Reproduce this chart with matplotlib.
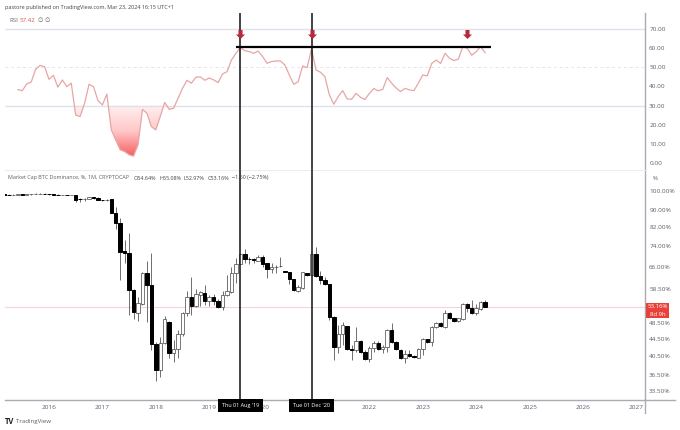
##BTC DOMINANCE MONTHLY CANDLES WITH RSI PANEL

import pandas as pd
import numpy as np
import matplotlib
matplotlib.use('Agg')
import matplotlib.pyplot as plt
from matplotlib.colors import LinearSegmentedColormap
from matplotlib.path import Path

plt.rcParams['font.family'] = ['Open Sans', 'DejaVu Sans']

##DATA

dates = pd.date_range('2015-03-01', periods=109, freq='MS')

opens = [98.2, 98.1, 98.0, 98.1, 98.2, 98.1, 98.3, 98.4, 98.5, 98.6,
         98.4, 98.3, 98.0, 97.9, 97.9, 97.8,
         97.8, 95.6, 95.5, 96.0, 96.6, 96.3,
         95.2, 95.0, 95.7, 88.7, 84.0, 72.0, 71.3, 58.2, 51.3, 53.9, 63.9, 59.8,
         43.3, 37.6, 43.6, 48.9, 41.3, 42.2, 45.8, 51.3, 56.0, 53.3, 56.6, 57.2,
         54.8, 56.0, 54.8, 53.0, 56.6, 57.6, 63.9, 67.1, 70.9, 69.0, 69.0, 68.4,
         69.7, 67.5, 65.3, 66.0, 66.2, 64.6, 64.2, 61.8, 57.9, 59.0, 63.9, 63.2,
         70.9, 62.8, 61.5, 60.1, 50.2, 42.6, 45.8, 47.8, 42.2, 41.9, 44.1, 41.5,
         39.9, 42.4, 43.6, 42.2, 42.6, 46.8, 43.8, 41.9, 40.2, 41.0, 40.5, 40.2,
         42.2, 44.5, 43.8, 47.6, 48.6, 47.6, 51.3, 49.9, 49.1, 49.7, 53.9, 52.7,
         51.3, 52.4, 54.64]
highs = [98.4, 98.3, 98.3, 98.4, 98.4, 98.5, 98.6, 98.7, 98.8, 98.8,
         98.6, 98.5, 98.2, 98.1, 98.1, 98.1,
         98.0, 96.2, 96.4, 96.8, 97.0, 96.6,
         95.4, 95.5, 96.0, 91.8, 86.3, 76.5, 79.5, 58.5, 56.0, 64.2, 68.2, 71.3,
         43.8, 45.0, 50.5, 49.1, 44.3, 46.8, 51.6, 57.9, 62.5, 58.5, 57.9, 59.8,
         56.6, 56.9, 55.4, 57.9, 63.2, 66.0, 69.3, 71.0, 72.8, 69.7, 69.2, 70.5,
         70.5, 67.5, 67.5, 66.7, 69.7, 64.7, 64.2, 61.8, 59.8, 64.4, 64.0, 71.0,
         73.6, 64.6, 62.5, 60.2, 50.4, 48.1, 48.9, 47.9, 43.1, 47.6, 44.4, 41.9,
         42.9, 44.0, 44.0, 43.1, 47.0, 48.6, 44.0, 42.2, 41.9, 41.9, 40.8, 42.4,
         44.8, 44.6, 47.8, 48.9, 48.8, 52.2, 51.5, 50.0, 50.0, 54.2, 54.2, 55.1,
         53.9, 54.8, 55.08]
lows = [97.9, 97.8, 97.8, 97.9, 97.9, 97.9, 98.1, 98.2, 98.3, 98.2,
        98.1, 97.8, 97.7, 97.7, 97.6, 97.6,
        94.2, 94.2, 94.7, 95.6, 96.0, 95.0,
        94.8, 94.8, 88.5, 81.3, 61.5, 67.5, 50.8, 49.7, 49.1, 53.6, 48.9, 41.9,
        35.4, 36.2, 43.3, 40.2, 39.3, 40.2, 45.3, 50.5, 50.8, 53.0, 53.3, 53.6,
        53.3, 53.6, 52.7, 52.2, 56.3, 57.2, 60.5, 67.0, 67.5, 67.1, 67.5, 68.2,
        66.0, 62.2, 63.9, 63.9, 66.0, 64.1, 60.1, 57.8, 57.6, 58.5, 63.0, 63.0,
        62.6, 60.0, 59.8, 49.4, 39.8, 41.3, 43.1, 42.0, 39.7, 41.5, 41.3, 39.7,
        39.3, 41.5, 42.0, 41.3, 41.5, 43.6, 42.0, 40.0, 39.1, 40.4, 40.2, 40.1,
        40.8, 43.6, 42.9, 47.3, 47.6, 47.3, 49.7, 49.0, 49.0, 49.5, 51.6, 51.0,
        50.8, 52.2, 52.97]
closes = [98.1, 98.0, 98.1, 98.2, 98.1, 98.3, 98.4, 98.5, 98.6, 98.4,
          98.3, 98.0, 97.9, 97.9, 97.8, 97.9,
          95.2, 95.5, 95.8, 96.6, 96.4, 95.2,
          95.0, 95.3, 88.7, 84.0, 71.6, 71.3, 58.2, 51.6, 54.2, 63.9, 59.8, 43.3,
          37.6, 43.6, 49.7, 41.3, 42.2, 45.8, 51.3, 56.0, 53.3, 56.9, 57.6, 54.8,
          56.0, 54.8, 53.0, 56.6, 57.9, 63.9, 67.1, 70.9, 69.0, 68.8, 68.6, 69.7,
          67.1, 65.3, 66.0, 66.1, 66.4, 64.2, 61.8, 58.2, 59.2, 64.2, 63.2, 70.9,
          62.8, 61.5, 60.1, 50.2, 42.6, 45.8, 48.1, 42.2, 41.9, 44.1, 41.5, 39.9,
          42.4, 43.6, 42.2, 42.6, 46.8, 43.8, 42.2, 40.2, 41.0, 40.6, 40.4, 42.2,
          44.5, 43.8, 47.6, 48.6, 47.8, 51.3, 49.9, 49.1, 49.9, 53.9, 52.7, 51.3,
          52.7, 54.5, 53.16]

rsi_dates = pd.date_range('2015-06-01', periods=106, freq='MS')
rsi_values = [38.3, 37.8, 41.3, 42.3, 49, 51, 50.3,
              43.7, 45.8, 39.6, 43.4, 39.9, 41.7, 25, 24.3, 31.2, 41.1, 39.9, 32.6,
              30.3, 36, 17.3, 12, 6.9, 6, 4.3, 3.6, 9.5, 28, 26, 19,
              17.3, 24.3, 31.6, 28, 28.6, 33.8, 39, 43.2, 41.7, 44.8, 45, 43.2,
              44.4, 43.4, 42, 46.5, 47.7, 53.8, 57.3, 60.3, 58.7, 58.2, 57.3, 58.5,
              55.6, 52.1, 53, 53.3, 53.3, 51.2, 46, 41.1, 42.5, 50.7, 49.8, 59.6,
              48.6, 47.4, 45.1, 35.6, 30.7, 34.7, 37.8, 33.5, 33.3, 36.4, 34.3, 33.1,
              36.4, 38.9, 37.7, 38.5, 44.6, 41.7, 39.2, 37.3, 39, 38.2, 37.8, 41.7,
              46, 45.5, 52, 53.8, 52, 57.3, 54.7, 53.5, 54.3, 60.8, 59.9, 56.3,
              58.2, 60.8, 57.6]

# 2021 sits fully behind the crosshair date label in the picture
year_ticks = [2016, 2017, 2018, 2019, 2020, 2022, 2023, 2024, 2025, 2026, 2027]
price_ticks = [100, 90, 82, 74, 66, 58.5, 48.5, 44.5, 40.5, 36.5, 33.5]
rsi_ticks = [70, 60, 50, 40, 30, 20, 10, 0]
last_price = 53.16
arrow_years = [2019 + 7/12, 2020 + 11/12, 2023 + 10/12]
cross_years = [2019 + 7/12, 2020 + 11/12]
cross_labels = ["Thu 01 Aug '19", "Tue 01 Dec '20"]

##CONVERT DATES TO FRACTIONAL YEARS

x_price = np.array(dates.year + (dates.month - 1) / 12)
x_rsi = np.array(rsi_dates.year + (rsi_dates.month - 1) / 12)
rsi_arr = np.array(rsi_values)
o = np.array(opens)
c = np.array(closes)
up = c >= o

##FIGURE AND PANELS (pixel layout of the 680x430 picture)

W, H = 680, 430
fig = plt.figure(figsize=(W / 100, H / 100), dpi=100, facecolor='white')
ax_rsi = fig.add_axes([5 / W, 1 - 170 / H, 640 / W, 157 / H])
ax_price = fig.add_axes([5 / W, 1 - 400 / H, 640 / W, 230 / H])

xlim = (2015.176, 2027.161)
grey = '#5a5e66'
axis_grey = '#a9acb3'
for ax in (ax_rsi, ax_price):
    ax.set_xlim(xlim)
    ax.yaxis.tick_right()
    ax.tick_params(axis='y', length=0, labelsize=4.6, labelcolor=grey, pad=3)
    for s in ('top', 'left', 'bottom'):
        ax.spines[s].set_visible(False)
    ax.spines['right'].set_color(axis_grey)
    ax.spines['right'].set_linewidth(1)

##RSI PANEL

ax_rsi.set_ylim(-3.66, 78.36)
ax_rsi.set_yticks(rsi_ticks)
ax_rsi.set_yticklabels([f'{v:.2f}' for v in rsi_ticks])
ax_rsi.set_xticks([])
ax_rsi.axhline(70, color='#dfe1ec', lw=1)
ax_rsi.axhline(30, color='#dfe1ec', lw=1)
ax_rsi.axhline(50, color='#e4e4ea', lw=0.7, ls=(0, (3, 3)))

# gradient under 30, clipped to the area between the line and the 30 level
band = ax_rsi.fill_between(x_rsi, rsi_arr, 30, where=rsi_arr < 30, interpolate=True, color='none')
clip = Path.make_compound_path(*band.get_paths())
cmap = LinearSegmentedColormap.from_list('oversold', ['#fff0f0', '#ffc8c8', '#f65c5c'])
grad = ax_rsi.imshow(np.linspace(0, 1, 100).reshape(-1, 1), cmap=cmap, aspect='auto',
                     extent=(xlim[0], xlim[1], 3, 30), origin='upper', zorder=1)
grad.set_clip_path(clip, transform=ax_rsi.transData)
ax_rsi.set_xlim(xlim)
ax_rsi.set_ylim(-3.66, 78.36)

ax_rsi.plot(x_rsi, rsi_arr, color='#e8a5a5', lw=0.9, zorder=2)

##PRICE PANEL

ax_price.set_yscale('log')
ax_price.set_ylim(31.9, 112.2)
ax_price.set_yticks(price_ticks)
ax_price.set_yticklabels([f'{v:.2f}%' for v in price_ticks])
ax_price.minorticks_off()
ax_price.axhline(last_price, color='#f8d2d2', lw=0.8, zorder=1)

ax_price.vlines(x_price, lows, highs, color='#6e6e6e', lw=0.7, zorder=2)
body_w = 0.065
ax_price.bar(x_price[up], c[up] - o[up], bottom=o[up], width=body_w,
             color='white', edgecolor='#444444', lw=0.5, zorder=3)
ax_price.bar(x_price[~up], o[~up] - c[~up], bottom=c[~up], width=body_w,
             color='black', edgecolor='black', lw=0.7, zorder=3)

ax_price.set_xticks(year_ticks)
ax_price.set_xticklabels(year_ticks)
ax_price.tick_params(axis='x', length=0, labelsize=4.6, labelcolor=grey, pad=3.5)
ax_price.spines['bottom'].set_visible(True)
ax_price.spines['bottom'].set_color(axis_grey)
ax_price.spines['bottom'].set_linewidth(1)
ax_price.spines['top'].set_visible(True)
ax_price.spines['top'].set_color('#ededf0')
ax_price.spines['top'].set_linewidth(0.8)

# the scale lines run on past the corner of the plot
ax_price.plot([1, 1], [0, -0.055], transform=ax_price.transAxes, clip_on=False, color=axis_grey, lw=1)
ax_price.plot([1, 1.047], [0, 0], transform=ax_price.transAxes, clip_on=False, color=axis_grey, lw=1)

##HAND DRAWN OVERLAYS

for yr in cross_years:
    ax_rsi.axvline(yr, color='#111111', lw=1.1, zorder=6)
    ax_price.axvline(yr, color='#111111', lw=1.1, zorder=6)
ax_rsi.hlines(60.45, 2019.5, 2024.28, color='black', lw=1.6, zorder=6)

arrow = [(-0.45, 1), (0.45, 1), (0.45, 0), (1, 0), (0, -1), (-1, 0), (-0.45, 0)]
ax_rsi.plot(arrow_years, [67.3] * 3, ls='none', marker=arrow, ms=6.5,
            color='#b8283c', mec='none', zorder=7)

# crosshair date labels under the axis
for yr, txt in zip(cross_years, cross_labels):
    ax_price.text(yr, -0.024, txt, transform=ax_price.get_xaxis_transform(), clip_on=False,
                  ha='center', va='center', color='white', fontsize=4, zorder=8,
                  bbox=dict(boxstyle='square,pad=0.7', fc='black', ec='black', lw=0))

##TEXT

def fig_text(px, py, s, **kw):
    kw.setdefault('fontsize', 3.9)
    kw.setdefault('color', grey)
    kw.setdefault('va', 'center')
    fig.text(px / W, 1 - py / H, s, **kw)

fig_text(5, 7.5, 'pastore published on TradingView.com, Mar 23, 2024 16:15 UTC+1', fontsize=4, color='#444444')
fig_text(9, 20.5, 'RSI', fontsize=4.4)
fig_text(20, 20.5, '57.42', color='#d9534f', fontsize=4.4)
fig_text(37.5, 20.5, '∅', fontsize=4.4)
fig_text(44.5, 20.5, '∅', fontsize=4.4)
fig_text(8.5, 178, 'Market Cap BTC Dominance, %, 1M, CRYPTOCAP')
fig_text(134, 178, 'O54.64%', color='#444444')
fig_text(159, 178, 'H55.08%', color='#444444')
fig_text(184, 178, 'L52.97%', color='#444444')
fig_text(208, 178, 'C53.16%', color='#444444')
fig_text(232, 178, '−1.50 (−2.75%)', color='#444444')
fig_text(653, 178, '%', fontsize=4.4)
fig_text(5, 421, 'TV', fontsize=5.5, fontweight='bold', color='#222222')
fig_text(16, 421, 'TradingView', fontsize=4.4)

# last price tag on the scale
fig.patches.append(plt.Rectangle((646 / W, 1 - 318 / H), 23 / W, 15 / H, transform=fig.transFigure,
                                 facecolor='#e8413a', edgecolor='none'))
fig_text(657.5, 307, '53.16%', color='white', fontsize=4.3, ha='center')
fig_text(657.5, 314, '8d 9h', color='white', fontsize=4.3, ha='center')

plt.savefig('out.png', dpi=100)
